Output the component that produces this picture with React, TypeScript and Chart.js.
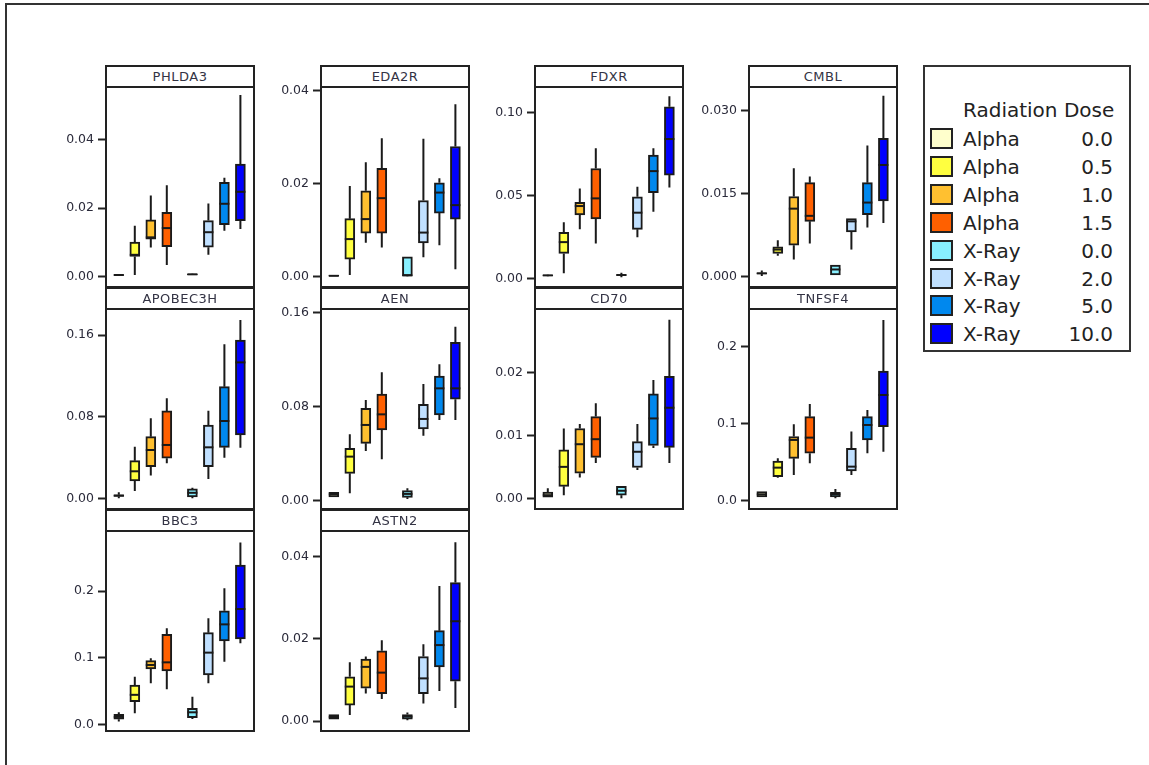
import React, { useEffect, useRef } from "react";
import { Chart, registerables } from "chart.js";

Chart.register(...registerables);

const FONT = '"DejaVu Sans", Verdana, sans-serif';

// ---- data -----------------------------------------------------------------
const GENES = ["PHLDA3", "EDA2R", "FDXR", "CMBL", "APOBEC3H", "AEN", "CD70", "TNFSF4", "BBC3", "ASTN2"];
const RADIATION = ["Alpha", "Alpha", "Alpha", "Alpha", "X-Ray", "X-Ray", "X-Ray", "X-Ray"];
const DOSES = ["0.0", "0.5", "1.0", "1.5", "0.0", "2.0", "5.0", "10.0"];
const DOSE_COLORS = ["#FFFFCC", "#FFFF40", "#FFC030", "#FF6000", "#88F0FF", "#C0E0FF", "#0088EE", "#0000FF"];

// each row: [lower whisker, q1, median, q3, upper whisker]
const PHLDA3 = [
  [0.0002, 0.0004, 0.0005, 0.0006, 0.0007],
  [0.0005, 0.0059, 0.0064, 0.0101, 0.0149],
  [0.0085, 0.011, 0.0115, 0.0166, 0.0237],
  [0.0034, 0.0088, 0.0142, 0.0188, 0.0267],
  [0.0005, 0.0006, 0.0007, 0.0008, 0.0009],
  [0.0064, 0.0086, 0.013, 0.0164, 0.0214],
  [0.0134, 0.0152, 0.0213, 0.0276, 0.0289],
  [0.0139, 0.0164, 0.0248, 0.0329, 0.0531],
];
const EDA2R = [
  [0.0, 0.0, 0.0001, 0.0002, 0.0002],
  [0.0003, 0.0037, 0.008, 0.0124, 0.0194],
  [0.0072, 0.0093, 0.0123, 0.0184, 0.0245],
  [0.0062, 0.0093, 0.0168, 0.0232, 0.0297],
  [0.0, 0.0001, 0.0002, 0.0042, 0.0042],
  [0.0041, 0.0072, 0.0094, 0.0163, 0.0296],
  [0.0067, 0.0136, 0.018, 0.0201, 0.0211],
  [0.0015, 0.0123, 0.0153, 0.0279, 0.037],
];
const FDXR = [
  [0.0015, 0.0018, 0.002, 0.0022, 0.0024],
  [0.0032, 0.0152, 0.022, 0.0279, 0.0339],
  [0.0297, 0.0383, 0.0437, 0.0459, 0.0543],
  [0.0212, 0.0359, 0.0483, 0.0663, 0.0784],
  [0.0008, 0.002, 0.0022, 0.0024, 0.0036],
  [0.0249, 0.0297, 0.0397, 0.0493, 0.0553],
  [0.0403, 0.0517, 0.0647, 0.0743, 0.0784],
  [0.0549, 0.0623, 0.084, 0.1034, 0.1098],
];
const CMBL = [
  [0.0001, 0.0005, 0.0006, 0.0007, 0.0011],
  [0.0038, 0.0042, 0.0049, 0.0054, 0.0066],
  [0.0031, 0.0057, 0.0123, 0.0145, 0.0196],
  [0.006, 0.01, 0.011, 0.017, 0.0181],
  [0.0003, 0.0003, 0.0013, 0.0021, 0.0021],
  [0.0049, 0.0081, 0.01, 0.0105, 0.0105],
  [0.0089, 0.0112, 0.0134, 0.017, 0.0237],
  [0.0097, 0.0137, 0.0202, 0.025, 0.0327],
];
const APOBEC3H = [
  [0.0007, 0.0025, 0.0033, 0.004, 0.0065],
  [0.0078, 0.0176, 0.027, 0.0374, 0.051],
  [0.0228, 0.0315, 0.0478, 0.0608, 0.0787],
  [0.0348, 0.0397, 0.0527, 0.0859, 0.0982],
  [0.0007, 0.002, 0.006, 0.0098, 0.011],
  [0.0195, 0.0315, 0.0504, 0.0722, 0.0862],
  [0.0403, 0.0504, 0.0761, 0.1096, 0.1509],
  [0.0501, 0.0624, 0.1333, 0.1551, 0.1746],
];
const AEN = [
  [0.0034, 0.0034, 0.0057, 0.0074, 0.0074],
  [0.0065, 0.0235, 0.0377, 0.0447, 0.0566],
  [0.0425, 0.049, 0.0646, 0.0787, 0.0858],
  [0.0354, 0.0603, 0.0736, 0.0909, 0.1093],
  [0.0017, 0.0031, 0.006, 0.0088, 0.0108],
  [0.0555, 0.0612, 0.0697, 0.0821, 0.0994],
  [0.0688, 0.0731, 0.0957, 0.1062, 0.1161],
  [0.0688, 0.0864, 0.0957, 0.1348, 0.1481],
];
const CD70 = [
  [0.0002, 0.0002, 0.0005, 0.001, 0.0016],
  [0.0005, 0.0019, 0.005, 0.0077, 0.0111],
  [0.0033, 0.004, 0.0086, 0.0111, 0.0118],
  [0.0056, 0.0065, 0.0094, 0.013, 0.0151],
  [0.0, 0.0005, 0.0012, 0.0019, 0.0019],
  [0.0045, 0.0049, 0.0074, 0.009, 0.0118],
  [0.008, 0.0084, 0.0127, 0.0166, 0.0188],
  [0.0056, 0.0081, 0.0144, 0.0194, 0.0284],
];
const TNFSF4 = [
  [0.0052, 0.0052, 0.0086, 0.0121, 0.0121],
  [0.0302, 0.0315, 0.0432, 0.0518, 0.0553],
  [0.0337, 0.0553, 0.0791, 0.0834, 0.0994],
  [0.0488, 0.0618, 0.0821, 0.1093, 0.1257],
  [0.0035, 0.0052, 0.0086, 0.0112, 0.0156],
  [0.0337, 0.0389, 0.0445, 0.0683, 0.0899],
  [0.0618, 0.0791, 0.0985, 0.1093, 0.1179],
  [0.0639, 0.0963, 0.1374, 0.1685, 0.2346],
];
const BBC3 = [
  [0.005, 0.0085, 0.012, 0.0159, 0.0189],
  [0.0174, 0.0348, 0.045, 0.0597, 0.0721],
  [0.0622, 0.0836, 0.0896, 0.096, 0.0995],
  [0.0532, 0.0806, 0.0935, 0.1353, 0.1443],
  [0.009, 0.0109, 0.0189, 0.0249, 0.0423],
  [0.0622, 0.0746, 0.108, 0.1378, 0.1592],
  [0.0945, 0.1254, 0.1502, 0.1706, 0.204],
  [0.1219, 0.1284, 0.1731, 0.2388, 0.2726],
];
const ASTN2 = [
  [0.0005, 0.0005, 0.001, 0.0016, 0.0016],
  [0.0015, 0.0039, 0.0084, 0.0108, 0.0143],
  [0.0067, 0.008, 0.0132, 0.0151, 0.0157],
  [0.0054, 0.0067, 0.0118, 0.0171, 0.0197],
  [0.0002, 0.0005, 0.0011, 0.0016, 0.0021],
  [0.0043, 0.0067, 0.0104, 0.0157, 0.0187],
  [0.0073, 0.0132, 0.0185, 0.022, 0.0329],
  [0.0032, 0.0097, 0.0243, 0.0337, 0.0435],
];
const STATS = [PHLDA3, EDA2R, FDXR, CMBL, APOBEC3H, AEN, CD70, TNFSF4, BBC3, ASTN2];

const TICK_LABELS = [
  ["0.00", "0.02", "0.04"],
  ["0.00", "0.02", "0.04"],
  ["0.00", "0.05", "0.10"],
  ["0.000", "0.015", "0.030"],
  ["0.00", "0.08", "0.16"],
  ["0.00", "0.08", "0.16"],
  ["0.00", "0.01", "0.02"],
  ["0.0", "0.1", "0.2"],
  ["0.0", "0.1", "0.2"],
  ["0.00", "0.02", "0.04"],
];

// y-axis extent of each panel
const Y_RANGES = [
  [-0.003, 0.0554],
  [-0.0023, 0.0407],
  [-0.005, 0.1153],
  [-0.00187, 0.0343],
  [-0.0098, 0.1854],
  [-0.0068, 0.1631],
  [-0.0017, 0.0301],
  [-0.0104, 0.2488],
  [-0.009, 0.2896],
  [-0.0024, 0.04625],
];

// ---- layout -----------------------------------------------------------------
// position of each dose group on the linear x axis (gap between the two radiation types)
const SLOTS = [1, 2, 3, 4, 5.6, 6.6, 7.6, 8.6];
const X_MIN = 0.2;
const X_MAX = 9.45;

const COL_LEFT = [106, 321, 535, 749];
const ROW_TOP = [87, 309, 531];
const PLOT_W = 148;
const PLOT_H = 200;
const HEADER_H = 22;
const AXIS_W = 60;
const PAD_T = 12;
const PAD_B = 12;
const PAD_R = 4;
const INK = "#1a1a1a";

function Panel({ index }: { index: number }) {
  const ref = useRef<HTMLCanvasElement | null>(null);
  const col = index % 4;
  const row = Math.floor(index / 4);
  const left = COL_LEFT[col];
  const top = ROW_TOP[row];

  useEffect(() => {
    const stats = STATS[index];
    const tickLabels = TICK_LABELS[index];
    const tickValues = tickLabels.map(Number);
    const [yMin, yMax] = Y_RANGES[index];

    const boxPlot = {
      id: "boxPlot",
      beforeDatasetsDraw(chart: any) {
        const ctx = chart.ctx;
        const y = chart.scales.y;
        const meta = chart.getDatasetMeta(0);
        ctx.save();
        ctx.strokeStyle = INK;
        ctx.lineWidth = 2;
        meta.data.forEach((bar: any, i: number) => {
          const [lo, q1, , q3, hi] = stats[i];
          const x = bar.x;
          ctx.beginPath();
          ctx.moveTo(x, y.getPixelForValue(lo));
          ctx.lineTo(x, y.getPixelForValue(q1));
          ctx.moveTo(x, y.getPixelForValue(q3));
          ctx.lineTo(x, y.getPixelForValue(hi));
          ctx.stroke();
        });
        ctx.restore();
      },
      afterDatasetsDraw(chart: any) {
        const ctx = chart.ctx;
        const y = chart.scales.y;
        const meta = chart.getDatasetMeta(0);
        ctx.save();
        ctx.strokeStyle = INK;
        ctx.lineWidth = 2;
        meta.data.forEach((bar: any, i: number) => {
          const med = stats[i][2];
          const py = y.getPixelForValue(med);
          const half = bar.width / 2;
          ctx.beginPath();
          ctx.moveTo(bar.x - half, py);
          ctx.lineTo(bar.x + half, py);
          ctx.stroke();
        });
        ctx.restore();
      },
      afterDraw(chart: any) {
        const { ctx, chartArea } = chart;
        ctx.save();
        ctx.strokeStyle = "#222";
        ctx.lineWidth = 2;
        ctx.strokeRect(chartArea.left, chartArea.top, chartArea.right - chartArea.left, chartArea.bottom - chartArea.top);
        ctx.restore();
      },
    };

    const chart = new Chart(ref.current as HTMLCanvasElement, {
      type: "bar",
      data: {
        datasets: [
          {
            data: stats.map((s, i) => ({ x: SLOTS[i], y: [s[1], s[3]] })) as any,
            backgroundColor: DOSE_COLORS,
            borderColor: INK,
            borderWidth: 2,
            borderSkipped: false,
            barThickness: 10,
          },
        ],
      },
      options: {
        animation: false,
        responsive: false,
        maintainAspectRatio: false,
        events: [],
        layout: { padding: { top: PAD_T, bottom: PAD_B, left: 0, right: PAD_R } },
        plugins: { legend: { display: false }, tooltip: { enabled: false } },
        scales: {
          x: { type: "linear", display: false, offset: false, min: X_MIN, max: X_MAX },
          y: {
            type: "linear",
            min: yMin,
            max: yMax,
            afterFit: (s: any) => {
              s.width = AXIS_W;
            },
            afterBuildTicks: (s: any) => {
              s.ticks = tickValues.map((v) => ({ value: v }));
            },
            ticks: {
              callback: (_v: any, i: number) => tickLabels[i],
              font: { family: FONT, size: 12.5 },
              color: "#2a2a3a",
              padding: 4,
            },
            grid: { drawOnChartArea: false, drawTicks: true, tickLength: 8, tickWidth: 2, tickColor: "#222" },
            border: { display: false },
          },
        },
      } as any,
      plugins: [boxPlot],
    });
    return () => chart.destroy();
  }, [index]);

  return (
    <>
      <div
        style={{
          position: "absolute",
          left: left - 1,
          top: top - HEADER_H,
          width: PLOT_W + 2,
          height: HEADER_H,
          boxSizing: "border-box",
          border: "2px solid #222",
          borderBottom: "none",
          textAlign: "center",
          fontFamily: FONT,
          fontSize: 13,
          letterSpacing: "0.5px",
          lineHeight: `${HEADER_H - 2}px`,
          color: "#334",
        }}
      >
        {GENES[index]}
      </div>
      <canvas
        ref={ref}
        width={AXIS_W + PLOT_W + PAD_R}
        height={PAD_T + PLOT_H + PAD_B}
        style={{
          position: "absolute",
          left: left - AXIS_W,
          top: top - PAD_T,
          width: AXIS_W + PLOT_W + PAD_R,
          height: PAD_T + PLOT_H + PAD_B,
        }}
      />
    </>
  );
}

function Legend() {
  return (
    <div
      style={{
        position: "absolute",
        left: 923,
        top: 65,
        width: 208,
        height: 287,
        boxSizing: "border-box",
        border: "2px solid #333",
        fontFamily: FONT,
        fontSize: 20,
        color: "#222",
      }}
    >
      <div style={{ position: "absolute", left: 38, top: 30, lineHeight: "26px", whiteSpace: "nowrap" }}>
        Radiation Dose
      </div>
      {DOSES.map((dose, i) => (
        <div key={i} style={{ position: "absolute", left: 0, top: 59 + i * 27.9, width: 204, height: 26 }}>
          <div
            style={{
              position: "absolute",
              left: 5,
              top: 2,
              width: 23,
              height: 21,
              boxSizing: "border-box",
              border: "2px solid #222",
              background: DOSE_COLORS[i],
            }}
          />
          <div style={{ position: "absolute", left: 38, top: 0, lineHeight: "26px" }}>{RADIATION[i]}</div>
          <div style={{ position: "absolute", right: 16, top: 0, lineHeight: "26px", textAlign: "right" }}>{dose}</div>
        </div>
      ))}
    </div>
  );
}

export default function App() {
  return (
    <div
      style={{
        position: "fixed",
        left: 0,
        top: 0,
        width: 1149,
        height: 765,
        overflow: "hidden",
        background: "#fff",
      }}
    >
      <div
        style={{
          position: "absolute",
          left: 5,
          top: 3,
          width: 1170,
          height: 800,
          borderLeft: "2px solid #333",
          borderTop: "2px solid #333",
        }}
      />
      {GENES.map((_, i) => (
        <Panel key={i} index={i} />
      ))}
      <Legend />
    </div>
  );
}
